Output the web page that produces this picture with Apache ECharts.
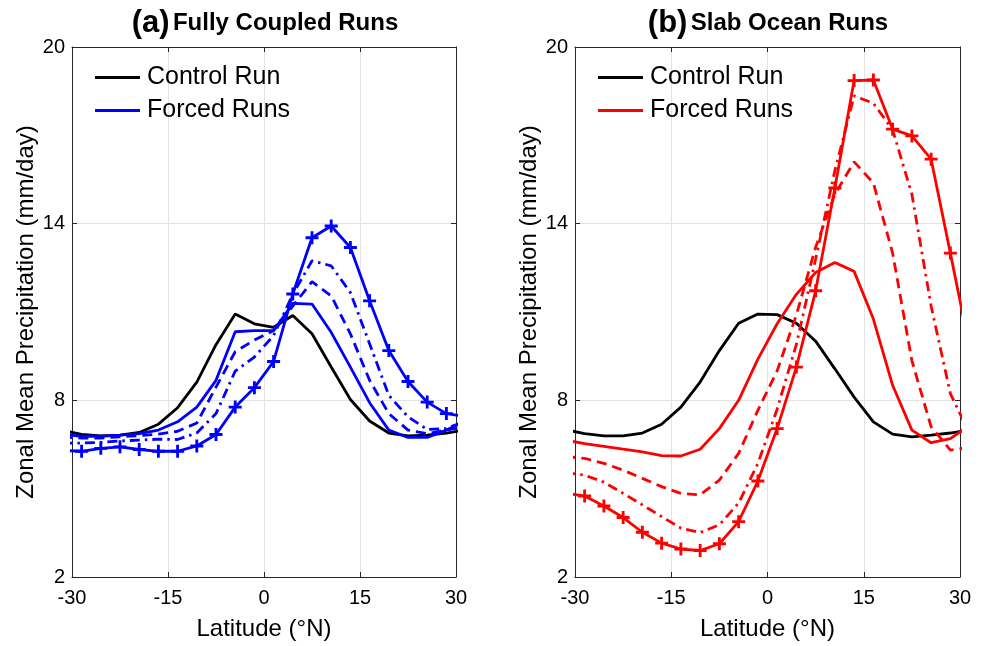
<!DOCTYPE html>
<html>
<head>
<meta charset="utf-8">
<script src="https://cdn.jsdelivr.net/npm/echarts@6/dist/echarts.min.js"></script>
<style>
html,body{margin:0;padding:0;background:#fff;}
#chart{width:984px;height:646px;}
</style>
</head>
<body>
<div id="chart"></div>
<script>
// Latitudes of model grid points (deg N); ends beyond +-30 are clipped by the axes
const lat = [-31.5,-28.5,-25.5,-22.5,-19.5,-16.5,-13.5,-10.5,-7.5,-4.5,-1.5,1.5,4.5,7.5,10.5,13.5,16.5,19.5,22.5,25.5,28.5,31.5];

// (a) Fully coupled runs
const ctrlA    = [6.98,6.84,6.79,6.82,6.91,7.19,7.75,8.62,9.89,10.93,10.60,10.48,10.88,10.26,9.13,8.03,7.30,6.89,6.79,6.82,6.89,7.00];
const forcedA1 = [6.85,6.78,6.78,6.82,6.87,6.99,7.27,7.77,8.68,10.33,10.37,10.37,11.29,11.27,10.31,9.13,7.92,6.99,6.74,6.74,6.99,7.30];
const forcedA2 = [6.75,6.72,6.72,6.76,6.80,6.85,6.95,7.23,8.45,9.65,10.05,10.37,11.20,12.03,11.55,10.26,8.68,7.55,6.99,6.87,6.99,7.10];
const forcedA3 = [6.55,6.55,6.57,6.62,6.65,6.68,6.67,6.89,7.55,8.99,9.47,10.20,11.60,12.74,12.57,11.66,9.92,8.17,7.44,7.01,7.04,7.30];
const forcedA4 = [6.30,6.27,6.37,6.42,6.33,6.27,6.27,6.45,6.84,7.77,8.43,9.32,11.61,13.52,13.92,13.19,11.38,9.69,8.64,7.94,7.55,7.45];

// (b) Slab ocean runs
const ctrlB    = [7.00,6.87,6.79,6.79,6.89,7.19,7.77,8.62,9.69,10.62,10.93,10.91,10.62,10.01,9.07,8.11,7.27,6.85,6.76,6.82,6.89,7.00];
const forcedB1 = [6.65,6.53,6.44,6.34,6.25,6.12,6.11,6.34,7.04,8.00,9.40,10.60,11.60,12.34,12.68,12.38,10.76,8.51,6.99,6.56,6.70,7.16];
const forcedB2 = [6.09,6.03,5.86,5.63,5.35,5.07,4.84,4.79,5.29,6.20,7.66,9.00,10.90,13.20,15.00,16.10,15.38,13.00,9.35,7.10,6.31,6.40];
const forcedB3 = [5.54,5.46,5.22,4.84,4.45,4.05,3.66,3.51,3.77,4.51,5.86,7.70,9.90,12.80,15.80,18.34,18.09,17.19,15.00,11.20,8.23,6.87];
const forcedB4 = [4.85,4.75,4.41,4.02,3.52,3.15,2.95,2.90,3.13,3.88,5.26,7.04,9.13,11.72,15.21,18.86,18.88,17.21,16.98,16.19,13.00,9.76];

// Axis ticks
const xTicks = [-30,-15,0,15,30];
const yTicks = [2,8,14,20];

const xMin = xTicks[0], xMax = xTicks[xTicks.length-1], xStep = xTicks[1]-xTicks[0];
const yMin = yTicks[0], yMax = yTicks[yTicks.length-1], yStep = yTicks[1]-yTicks[0];

const pairs = arr => lat.map((x,i)=>[x, arr[i]]);

const FONT = '"Liberation Sans", Arial, Helvetica, sans-serif';
const AX = '#262626';
const GRIDC = '#e3e3e3';
const PLUS = 'path://M-1.1,-5H1.1V-1.1H5V1.1H1.1V5H-1.1V1.1H-5V-1.1H-1.1Z';
const DASH = [10,6];
const DASHDOT = [10,5,2.5,5];
const LEGICON = 'path://M0,0H45V3H0Z';

function bottomX(gi){
  return {type:'value', gridIndex:gi, position:'bottom', min:xMin, max:xMax, interval:xStep,
    name:'Latitude (°N)', nameLocation:'middle', nameGap:40,
    nameTextStyle:{fontFamily:FONT, fontSize:24, color:'#000'},
    axisLine:{show:true, onZero:false, lineStyle:{color:AX, width:1}},
    axisTick:{show:true, inside:true, length:5, lineStyle:{color:AX}},
    axisLabel:{fontFamily:FONT, fontSize:20, color:'#000', margin:11},
    splitLine:{show:true, lineStyle:{color:GRIDC, width:1}}};
}
function topX(gi){
  return {type:'value', gridIndex:gi, position:'top', min:xMin, max:xMax, interval:xStep,
    axisLine:{show:true, onZero:false, lineStyle:{color:AX, width:1}},
    axisTick:{show:true, inside:true, length:5, lineStyle:{color:AX}},
    axisLabel:{show:false}, splitLine:{show:false}};
}
function leftY(gi){
  return {type:'value', gridIndex:gi, position:'left', min:yMin, max:yMax, interval:yStep,
    name:'Zonal Mean Precipitation (mm/day)', nameLocation:'middle', nameGap:29,
    nameTextStyle:{fontFamily:FONT, fontSize:24, color:'#000'},
    axisLine:{show:true, onZero:false, lineStyle:{color:AX, width:1}},
    axisTick:{show:true, inside:true, length:5, lineStyle:{color:AX}},
    axisLabel:{fontFamily:FONT, fontSize:20, color:'#000', margin:7},
    splitLine:{show:true, lineStyle:{color:GRIDC, width:1}}};
}
function rightY(gi){
  return {type:'value', gridIndex:gi, position:'right', min:yMin, max:yMax, interval:yStep,
    axisLine:{show:true, onZero:false, lineStyle:{color:AX, width:1}},
    axisTick:{show:true, inside:true, length:5, lineStyle:{color:AX}},
    axisLabel:{show:false}, splitLine:{show:false}};
}

function line(name, data, color, type, xi, yi, plus){
  return {type:'line', name:name, xAxisIndex:xi, yAxisIndex:yi, data:pairs(data),
    clip:true, smooth:false, animation:false,
    symbol: plus ? PLUS : 'none', symbolSize: plus ? 13 : 0, showSymbol: !!plus,
    itemStyle:{color:color}, emphasis:{disabled:true},
    lineStyle:{color:color, width:2.8, type:type}};
}

function legend(prefix, left){
  return {data:[{name:prefix+'Control Run', icon:LEGICON}, {name:prefix+'Forced Runs', icon:LEGICON}],
    formatter:n=>n.slice(2), orient:'vertical',
    left:left, top:65, padding:0, itemWidth:45, itemHeight:3, itemGap:8,
    textStyle:{fontFamily:FONT, fontSize:25, color:'#000', lineHeight:25, padding:[0,0,0,2]}, selectedMode:false};
}

const chart = echarts.init(document.getElementById('chart'), null, {renderer:'canvas'});
chart.setOption({
  backgroundColor:'#fff',
  animation:false,
  grid:[
    {left:72, top:47, width:384, height:530},
    {left:575, top:47, width:385, height:530}
  ],
  xAxis:[bottomX(0), topX(0), bottomX(1), topX(1)],
  yAxis:[leftY(0), rightY(0), leftY(1), rightY(1)],
  legend:[legend('a:', 95), legend('b:', 598)],
  graphic:[
    {type:'text', x:265, y:23, style:{text:'{a|(a)} {b|Fully Coupled Runs}', align:'center', verticalAlign:'middle',
      rich:{a:{fontFamily:FONT, fontSize:31, fontWeight:'bold', fill:'#000'}, b:{fontFamily:FONT, fontSize:24, fontWeight:'bold', fill:'#000'}}}},
    {type:'text', x:768, y:23, style:{text:'{a|(b)} {b|Slab Ocean Runs}', align:'center', verticalAlign:'middle',
      rich:{a:{fontFamily:FONT, fontSize:31, fontWeight:'bold', fill:'#000'}, b:{fontFamily:FONT, fontSize:24, fontWeight:'bold', fill:'#000'}}}}
  ],
  series:[
    line('a:Control Run', ctrlA, '#000000', 'solid', 0, 0, false),
    line('a:Forced Runs', forcedA1, '#0000ff', 'solid', 0, 0, false),
    line('a:f2', forcedA2, '#0000ff', DASH, 0, 0, false),
    line('a:f3', forcedA3, '#0000ff', DASHDOT, 0, 0, false),
    line('a:f4', forcedA4, '#0000ff', 'solid', 0, 0, true),
    line('b:Control Run', ctrlB, '#000000', 'solid', 2, 2, false),
    line('b:Forced Runs', forcedB1, '#ff0000', 'solid', 2, 2, false),
    line('b:f2', forcedB2, '#ff0000', DASH, 2, 2, false),
    line('b:f3', forcedB3, '#ff0000', DASHDOT, 2, 2, false),
    line('b:f4', forcedB4, '#ff0000', 'solid', 2, 2, true)
  ]
});
</script>
</body>
</html>
